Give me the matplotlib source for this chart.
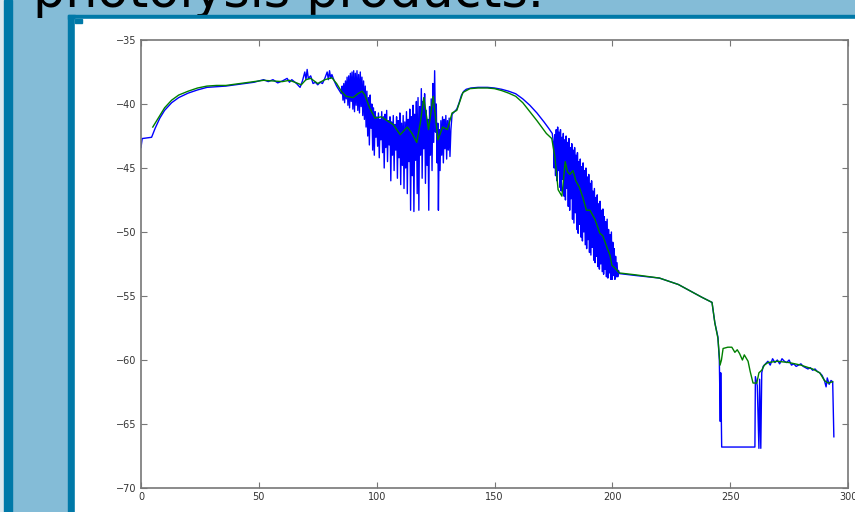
import numpy as np
import matplotlib.pyplot as plt
from matplotlib.patches import Rectangle

# slide colours
light_blue = "#84bcd7"
dark_blue = "#0079a8"

title = "photolysis products."

# blue trace (raw), pairs of (x, y)
blue_pts = [
    (0, -43.4), (0.5, -42.7), (4.5, -42.6), (6, -41.9), (8, -41.1), (10, -40.5),
    (13, -39.9), (16, -39.5), (20, -39.15), (24, -38.9), (28, -38.7), (32, -38.65),
    (36, -38.6), (40, -38.5), (44, -38.4), (48, -38.3), (50, -38.2), (52, -38.1),
    (54, -38.25), (56, -38.1), (58, -38.35), (60, -38.2), (62, -38.0), (63, -38.3),
    (64, -38.1), (66, -38.4), (67.5, -38.7), (68.5, -38.2), (69.5, -37.5), (70, -38.1),
    (70.5, -37.3), (71, -38.0), (72, -37.8), (73, -38.4), (74, -38.3), (75, -38.5),
    (76, -38.3), (77, -38.4), (78, -38.0), (79, -37.5), (79.5, -38.1), (80, -37.4),
    (80.5, -38.0), (81, -37.7), (82, -38.2), (83, -38.6), (84, -38.9),
    # first noisy stretch
    (85.0, -39.2), (85.35, -38.6), (85.7, -39.7), (86.05, -38.4), (86.4, -39.9), (86.75, -38.2),
    (87.1, -39.6), (87.45, -37.9), (87.8, -40.1), (88.15, -37.8), (88.5, -40.3), (88.85, -37.6),
    (89.2, -39.8), (89.55, -37.5), (89.9, -40.4), (90.25, -37.4), (90.6, -40.6), (90.95, -37.6),
    (91.3, -40.1), (91.65, -37.4), (92.0, -40.5), (92.35, -37.7), (92.7, -40.7), (93.05, -37.5),
    (93.4, -40.2), (93.75, -37.9), (94.1, -40.9), (94.45, -38.2), (94.8, -41.2),
    (95.15, -38.6), (95.5, -41.8), (95.85, -39.0), (96.2, -42.5), (96.55, -39.5), (96.9, -43.2),
    (97.25, -39.3), (97.6, -41.9), (97.95, -40.0), (98.3, -43.6), (98.65, -40.3), (99.0, -44.0),
    (99.35, -40.6), (99.7, -42.6), (100.05, -41.0), (100.4, -43.3), (100.75, -40.7), (101.1, -44.2),
    (101.45, -41.2), (101.8, -42.8), (102.15, -40.6), (102.5, -43.8), (102.85, -41.0), (103.2, -45.0),
    (103.55, -40.8), (103.9, -43.4), (104.25, -40.5), (104.6, -44.5), (104.95, -41.3), (105.3, -43.2),
    (105.65, -41.0), (106.0, -46.0), (106.35, -41.4), (106.7, -44.0), (107.05, -40.9), (107.4, -45.2),
    (107.75, -41.6), (108.1, -43.6), (108.45, -41.0), (108.8, -45.8), (109.15, -41.3), (109.5, -44.2),
    (109.85, -40.7), (110.2, -46.3), (110.55, -41.5), (110.9, -44.8), (111.25, -40.9), (111.6, -46.6),
    (111.95, -41.4), (112.3, -45.0), (112.65, -40.6), (113.0, -47.0), (113.35, -41.2), (113.7, -44.5),
    (114.05, -40.4), (114.4, -48.3), (114.75, -41.0), (115.1, -45.6), (115.45, -40.1), (115.8, -48.4),
    (116.15, -40.8), (116.5, -44.4), (116.85, -39.8), (117.2, -47.0), (117.55, -39.5), (117.9, -48.3),
    (118.25, -40.2), (118.6, -44.0), (118.95, -38.8), (119.3, -45.8), (119.65, -39.8), (120.0, -43.5),
    (120.35, -39.2), (120.7, -46.2), (121.05, -40.5), (121.4, -44.8), (121.75, -41.2), (122.1, -48.3),
    (122.45, -40.2), (122.8, -44.0), (123.15, -39.6), (123.5, -45.2), (123.85, -38.4), (124.2, -43.0),
    (124.6, -37.4), (124.95, -42.2), (125.3, -40.0), (125.65, -44.6), (125.95, -41.5), (126.2, -48.3),
    (126.55, -42.0), (126.9, -45.2), (127.25, -41.3), (127.6, -44.0), (127.95, -41.0), (128.3, -44.6),
    (128.65, -41.2), (129.0, -43.5), (129.35, -40.9), (129.7, -44.3), (130.05, -41.3), (130.4, -43.6),
    (130.75, -41.1), (131.1, -44.1), (131.5, -42.0),
    (132, -40.8), (133, -40.6), (134, -40.4), (135, -39.9), (136, -39.3), (137, -39.0),
    (138, -38.85), (140, -38.75), (143, -38.7), (147, -38.7), (150, -38.75), (153, -38.85),
    (156, -39.0), (159, -39.2), (162, -39.6), (165, -40.1), (168, -40.7), (171, -41.4),
    (173, -41.9), (174.5, -42.3),
    # second noisy stretch
    (175.0, -43.0), (175.3, -45.0), (175.6, -42.4), (175.9, -45.6), (176.2, -42.0), (176.5, -46.0),
    (176.8, -41.8), (177.1, -45.2), (177.4, -42.2), (177.7, -46.5), (178.0, -42.0), (178.3, -46.8),
    (178.6, -42.6), (178.9, -45.9), (179.2, -42.3), (179.5, -47.2), (179.8, -42.8), (180.1, -47.5),
    (180.4, -42.5), (180.7, -46.6), (181.0, -43.0), (181.3, -48.0), (181.6, -42.7), (181.9, -48.3),
    (182.2, -43.4), (182.5, -47.4), (182.8, -43.1), (183.1, -49.0), (183.4, -43.6), (183.7, -49.3),
    (184.0, -43.4), (184.3, -48.5), (184.6, -44.0), (184.9, -49.8), (185.2, -43.8), (185.5, -50.1),
    (185.8, -44.5), (186.1, -49.4), (186.4, -44.3), (186.7, -50.4), (187.0, -44.9), (187.3, -50.7),
    (187.6, -44.6), (187.9, -50.0), (188.2, -45.2), (188.5, -51.0), (188.8, -45.0), (189.1, -51.3),
    (189.4, -45.7), (189.7, -50.6), (190.0, -45.5), (190.3, -51.6), (190.6, -46.2), (190.9, -51.8),
    (191.2, -46.0), (191.5, -51.2), (191.8, -46.8), (192.1, -52.2), (192.4, -46.6), (192.7, -52.4),
    (193.0, -47.3), (193.3, -51.9), (193.6, -47.1), (193.9, -52.7), (194.2, -47.8), (194.5, -52.9),
    (194.8, -47.6), (195.1, -52.5), (195.4, -48.3), (195.7, -53.1), (196.0, -48.2), (196.3, -53.3),
    (196.6, -48.8), (196.9, -52.9), (197.2, -49.2), (197.5, -53.5), (197.8, -49.0), (198.1, -53.6),
    (198.4, -49.8), (198.7, -53.2), (199.0, -50.2), (199.3, -53.7), (199.6, -50.0), (199.9, -53.7),
    (200.2, -50.8), (200.5, -53.4), (200.8, -51.3), (201.1, -53.7), (201.4, -51.9), (201.7, -53.5),
    (202.0, -52.4), (202.3, -53.5), (202.6, -53.0), (203, -53.25),
    (210, -53.4), (220, -53.6), (228, -54.1), (234, -54.7), (238, -55.1), (242.3, -55.5),
    (243.5, -57.1), (244.8, -58.2), (245.4, -60.0), (245.8, -64.8), (246.0, -61.0), (246.4, -66.8),
    (260.5, -66.8), (260.7, -61.3), (261.5, -62.0), (262.2, -66.9), (262.5, -61.5), (263.0, -66.9),
    (263.4, -61.0), (264, -60.5), (265, -60.3), (266, -60.1), (267, -60.4), (268, -59.9),
    (269, -60.2), (270, -60.0), (271, -60.3), (272, -59.9), (273, -60.1), (274, -60.2),
    (275, -60.0), (276, -60.4), (277, -60.3), (278, -60.5), (279, -60.4), (280, -60.3),
    (281, -60.5), (282, -60.6), (283, -60.7), (284, -60.6), (285, -60.8), (286, -60.7),
    (287, -60.9), (288, -61.0), (289, -61.2), (290, -61.6), (290.7, -62.1), (291.2, -61.4),
    (292, -61.9), (292.8, -61.6), (293.5, -61.7), (294, -66.0),
]

# green trace (smoothed)
green_pts = [
    (5, -41.8), (8, -40.9), (10, -40.3), (13, -39.7), (16, -39.3), (20, -39.0),
    (24, -38.75), (28, -38.6), (32, -38.55), (36, -38.55), (40, -38.45), (44, -38.35),
    (48, -38.25), (52, -38.15), (56, -38.2), (60, -38.25), (63, -38.15), (66, -38.35),
    (68, -38.5), (70, -38.1), (72, -38.0), (75, -38.4), (78, -38.1), (81, -37.95),
    (83, -38.4), (85, -39.0), (87, -39.4), (90, -39.5), (92, -39.2), (93.8, -39.0),
    (95, -39.3), (97, -40.3), (99.3, -41.1), (102, -41.0), (104, -41.25), (107, -41.6),
    (110, -42.4), (113, -41.8), (115, -42.3), (117, -43.0), (118.5, -41.5), (120, -39.5),
    (122, -42.0), (124, -39.4), (126, -42.8), (128, -41.8), (130, -42.0), (132, -40.7),
    (134, -40.5), (136.6, -39.1), (139.6, -38.8), (143, -38.75), (147, -38.75), (150, -38.8),
    (153, -38.95), (156, -39.15), (159, -39.4), (162, -39.9), (165, -40.6), (168, -41.3),
    (172, -42.3), (174.3, -42.7), (175.6, -44.1), (177, -46.7), (178.6, -47.2), (180, -44.5),
    (181, -45.3), (182, -45.5), (183.3, -45.2), (184.5, -46.0), (186, -46.5), (187.5, -47.3),
    (189, -48.3), (190.5, -48.3), (192.6, -49.0), (194.7, -50.1), (196, -50.3), (197.7, -51.2),
    (199, -51.8), (199.8, -52.6), (201, -52.8), (203, -53.2), (210, -53.35), (220, -53.6),
    (228, -54.1), (234, -54.7), (238, -55.1), (242.3, -55.5), (243.5, -57.1), (244.8, -58.3),
    (245.7, -60.4), (246.3, -60.0), (247, -59.1), (249, -59.0), (250.7, -59.0), (252, -59.4),
    (253, -59.2), (254, -59.5), (255.2, -60.0), (256, -59.6), (257.6, -60.1), (258.5, -60.9),
    (259.7, -61.8), (261.3, -61.8), (262.2, -61.0), (263.4, -60.8), (264.5, -60.4), (266, -60.2),
    (270, -60.1), (275, -60.2), (280, -60.4), (285, -60.7), (288, -61.0), (290, -61.6),
    (291.5, -61.8), (293.5, -61.7),
]

x_ticks = [0, 50, 100, 150, 200, 250, 300]
y_ticks = [-70, -65, -60, -55, -50, -45, -40, -35]

W, H = 855, 512
fig = plt.figure(figsize=(W / 100, H / 100), dpi=100)
fig.patch.set_facecolor(light_blue)


def box(x0, y0, x1, y1, color):
    # rectangle in pixel coords (top-left origin), kept behind the axes
    fig.patches.append(Rectangle((x0 / W, 1 - y1 / H), (x1 - x0) / W, (y1 - y0) / H,
                                 transform=fig.transFigure, color=color, zorder=-10))


# slide frame
box(0, 0, 4, H, "#dde8ee")
box(4, 0, 12, H, dark_blue)
box(68, 15, W, 19, dark_blue)
box(68, 15, 75, H, dark_blue)
box(75, 19, W, H, "white")
box(75, 19, 82, 23, dark_blue)

fig.text(33 / W, 1 - 7.5 / H, title, fontsize=36.5, color="black",
         ha="left", va="baseline", family="DejaVu Sans", zorder=-20)

ax = fig.add_axes([141 / W, 1 - 488 / H, (848 - 141) / W, (488 - 40) / H])
ax.set_facecolor("white")

bx, by = np.array(blue_pts).T
gx, gy = np.array(green_pts).T
ax.plot(bx, by, color="#0000ff", lw=1.0)
ax.plot(gx, gy, color="#008000", lw=1.0)

ax.set_xlim(0, 300)
ax.set_ylim(-70, -35)
ax.set_xticks(x_ticks)
ax.set_yticks(y_ticks)
ax.tick_params(direction="in", length=4, width=0.8, color="#777777",
               labelsize=7, labelcolor="#333333", top=True, right=True, pad=3)
for s in ax.spines.values():
    s.set_color("#777777")
    s.set_linewidth(1.2)

fig.savefig("out.png", dpi=100, facecolor=fig.get_facecolor())
